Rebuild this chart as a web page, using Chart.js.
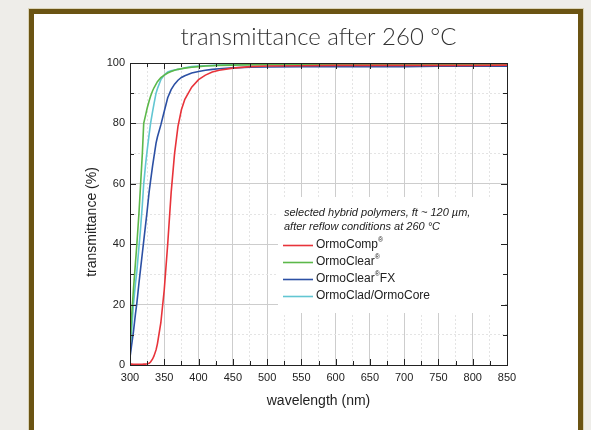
<!DOCTYPE html>
<html>
<head>
<meta charset="utf-8">
<script src="https://cdn.jsdelivr.net/npm/chart.js@4.4.1/dist/chart.umd.min.js"></script>
<style>
    html, body { margin: 0; padding: 0; }
    body { width: 591px; height: 430px; background: #eeede9; position: relative; overflow: hidden; }
    #frame {
        position: absolute; left: 29px; top: 9px; width: 544px; height: 440px;
        border: 5px solid #6b5413; background: #fff; box-shadow: 0 0 0 1px #d9d3b7;
    }
    #chart { position: absolute; left: 0; top: 0; }
</style>
</head>
<body>
<div id="frame"></div>
<canvas id="chart" width="591" height="430"></canvas>
<script>
// wavelength in nm, transmittance in %
const wavelengths = [300, 302, 305, 308, 310, 313, 315, 318, 320, 323, 325, 328, 330, 333, 335, 338, 340, 345, 350, 355,
    360, 365, 370, 375, 380, 390, 400, 410, 420, 430, 450, 475, 500, 550, 600, 650, 700, 750, 800, 850];

const ormoComp = [0.3, 0.3, 0.2, 0.2, 0.2, 0.2, 0.2, 0.2, 0.3, 0.3, 0.4, 0.6, 1, 2, 3, 5, 7, 14, 25, 40,
    57, 70, 79, 84.5, 88, 92, 94.5, 96, 97, 97.6, 98.3, 98.8, 99, 99.1, 99.2, 99.2, 99.2, 99.2, 99.2, 99.3];
const ormoClear = [5, 15, 25, 34, 40, 50, 58, 70, 80, 83, 85, 87.5, 89, 90.8, 91.8, 93, 93.8, 95.2, 96, 96.7,
    97.2, 97.6, 97.9, 98.1, 98.3, 98.6, 98.8, 99, 99.1, 99.2, 99.3, 99.4, 99.4, 99.5, 99.5, 99.5, 99.5, 99.5, 99.4, 99.5];
const ormoClearFX = [2.5, 6, 11, 17, 20.5, 27, 31, 37, 41, 47, 51, 57.5, 61, 66, 69, 73.5, 75.5, 79.5, 84, 88.5,
    91.2, 93, 94.3, 95.2, 95.8, 96.7, 97.2, 97.6, 97.9, 98.1, 98.4, 98.6, 98.7, 98.8, 98.8, 98.8, 98.8, 98.9, 98.9, 98.9];
const ormoCladCore = [3, 10, 20, 27, 31, 39, 44, 53, 60, 67, 71, 76.5, 80, 84, 86.5, 90, 91.5, 94.5, 96, 97,
    97.4, 97.7, 97.9, 98.1, 98.4, 98.8, 99, 99.1, 99.2, 99.3, 99.4, 99.4, 99.5, 99.5, 99.5, 99.5, 99.6, 99.6, 99.6, 99.6];

const seriesNames = ['OrmoComp', 'OrmoClear', 'OrmoClear', 'OrmoClad/OrmoCore'];
const seriesMarks = ['®', '®', '®', ''];
const seriesTails = ['', '', 'FX', ''];
const seriesColors = ['#e8333a', '#5cb84a', '#2c50a4', '#62c6d2'];

const titleText = 'transmittance after 260 °C';
const xTitle = 'wavelength (nm)';
const yTitle = 'transmittance (%)';
const noteLines = ['selected hybrid polymers, ft ~ 120 µm,', 'after reflow conditions at 260 °C'];

function toPoints(values) {
    return values.map((v, i) => ({ x: wavelengths[i], y: v }));
}

const isMajorX = (v) => v % 50 === 0;
const isMajorY = (v) => v % 20 === 0;

// NOTE frame, inward ticks, legend and titles
const decorations = {
    id: 'decorations',
    beforeDatasetsDraw(chart) {
        const ctx = chart.ctx;
        ctx.save();
        ctx.fillStyle = '#fff';
        ctx.fillRect(278, 197, 227, 116);
        ctx.restore();
    },
    afterDraw(chart) {
        const ctx = chart.ctx;
        const area = chart.chartArea;
        const xs = chart.scales.x;
        const ys = chart.scales.y;

        ctx.save();
        ctx.strokeStyle = '#222';
        ctx.lineWidth = 1;
        ctx.strokeRect(Math.round(area.left) + 0.5, Math.round(area.top) + 0.5,
            Math.round(area.right - area.left), Math.round(area.bottom - area.top));

        ctx.beginPath();
        xs.ticks.forEach((t) => {
            const px = Math.round(xs.getPixelForValue(t.value)) + 0.5;
            const len = isMajorX(t.value) ? 6 : 4;
            ctx.moveTo(px, area.bottom);
            ctx.lineTo(px, area.bottom - len);
            ctx.moveTo(px, area.top);
            ctx.lineTo(px, area.top + len);
        });
        ys.ticks.forEach((t) => {
            const py = Math.round(ys.getPixelForValue(t.value)) + 0.5;
            const len = isMajorY(t.value) ? 6 : 4;
            ctx.moveTo(area.left, py);
            ctx.lineTo(area.left + len, py);
            ctx.moveTo(area.right, py);
            ctx.lineTo(area.right - len, py);
        });
        ctx.stroke();

        // title
        ctx.fillStyle = '#333';
        ctx.font = '300 24px Lato';
        ctx.textAlign = 'center';
        ctx.textBaseline = 'alphabetic';
        ctx.fillText(titleText, (area.left + area.right) / 2, 45);

        // axis titles
        ctx.fillStyle = '#222';
        ctx.font = '14px "Liberation Sans"';
        ctx.textBaseline = 'middle';
        ctx.fillText(xTitle, (area.left + area.right) / 2, 401);
        ctx.save();
        ctx.translate(92, 222);
        ctx.rotate(-Math.PI / 2);
        ctx.fillText(yTitle, 0, 0);
        ctx.restore();

        // legend
        ctx.textAlign = 'left';
        ctx.font = 'italic 11px "Liberation Sans"';
        ctx.fillText(noteLines[0], 284, 213);
        ctx.fillText(noteLines[1], 284, 227);

        const rows = [245, 262, 279, 296];
        seriesNames.forEach((name, i) => {
            const y = rows[i];
            ctx.strokeStyle = seriesColors[i];
            ctx.lineWidth = 1.6;
            ctx.beginPath();
            ctx.moveTo(283, y + 0.5);
            ctx.lineTo(313, y + 0.5);
            ctx.stroke();

            ctx.font = '12px "Liberation Sans"';
            ctx.fillText(name, 316, y);
            let x = 316 + ctx.measureText(name).width;
            if (seriesMarks[i]) {
                ctx.font = '7px "Liberation Sans"';
                ctx.fillText(seriesMarks[i], x, y - 5);
                x += ctx.measureText(seriesMarks[i]).width;
            }
            if (seriesTails[i]) {
                ctx.font = '12px "Liberation Sans"';
                ctx.fillText(seriesTails[i], x, y);
            }
        });
        ctx.restore();
    },
};

const gridColor = (major) => (c) => (c.tick && major(c.tick.value) ? '#cdcdcd' : '#e4e4e4');
const gridDash = (major) => (c) => (c.tick && !major(c.tick.value) ? [2, 2] : []);

const datasets = [ormoComp, ormoClear, ormoClearFX, ormoCladCore].map((values, i) => ({
    label: seriesNames[i] + seriesMarks[i] + seriesTails[i],
    data: toPoints(values),
    borderColor: seriesColors[i],
    borderWidth: 1.6,
    pointRadius: 0,
    tension: 0,
    fill: false,
}));

new Chart(document.getElementById('chart'), {
    type: 'line',
    data: { datasets: datasets },
    options: {
        responsive: false,
        animation: false,
        devicePixelRatio: 1,
        layout: { padding: { left: 80, right: 84, top: 63, bottom: 45 } },
        plugins: { legend: { display: false }, tooltip: { enabled: false } },
        scales: {
            x: {
                type: 'linear',
                min: 300,
                max: 850,
                afterFit: (scale) => { scale.height = 20; },
                ticks: {
                    stepSize: 25,
                    autoSkip: false,
                    maxRotation: 0,
                    padding: 6,
                    color: '#222',
                    font: { family: '"Liberation Sans"', size: 11 },
                    callback: (v) => (isMajorX(v) ? v : ''),
                },
                grid: { drawTicks: false, color: gridColor(isMajorX) },
                border: { display: false, dash: gridDash(isMajorX) },
            },
            y: {
                min: 0,
                max: 100,
                afterFit: (scale) => { scale.width = 50; },
                ticks: {
                    stepSize: 10,
                    padding: 5,
                    color: '#222',
                    font: { family: '"Liberation Sans"', size: 11 },
                    callback: (v) => (isMajorY(v) ? v : ''),
                },
                grid: { drawTicks: false, color: gridColor(isMajorY) },
                border: { display: false, dash: gridDash(isMajorY) },
            },
        },
    },
    plugins: [decorations],
});
</script>
</body>
</html>
